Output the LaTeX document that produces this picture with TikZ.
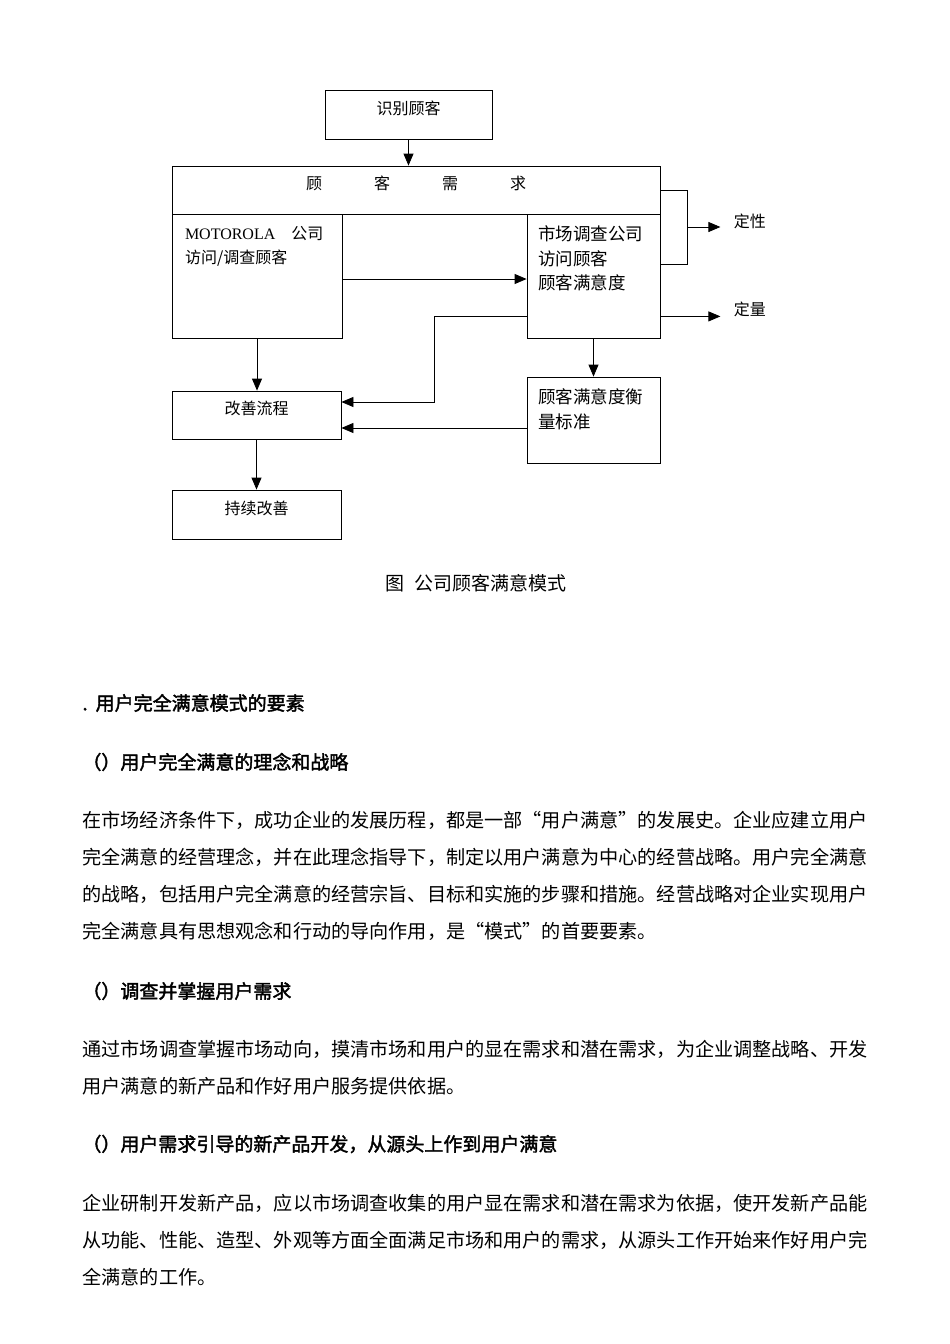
\documentclass[tikz,border=0pt]{standalone}
\usepackage{fontspec}
\setmainfont{Noto Sans CJK SC}[AutoFakeBold=2]
\newfontfamily\latinfont{Liberation Serif}
\usetikzlibrary{positioning,arrows.meta,calc}
\tikzset{
  box/.style={draw,line width=0.8pt,inner sep=0pt},
  onebox/.style={box,font=\fontsize{16}{24}\selectfont,text height=14pt,text depth=15pt},
  boxtext/.style={inner sep=0pt,align=left,font=\fontsize{16}{24.5}\selectfont},
  widetext/.style={boxtext,font=\fontsize{17.5}{24.5}\selectfont},
  para/.style={anchor=west,inner sep=0pt,font=\fontsize{19.15}{19}\selectfont},
  head/.style={para,font=\fontsize{19}{19}\selectfont\bfseries},
}
\begin{document}
\begin{tikzpicture}[x=1pt,y=-1pt,line width=0.8pt,>={Triangle[length=12pt,width=10pt]}]
      \useasboundingbox (0,0) rectangle (950,1344);
      % boxes
      \node[onebox,minimum width=167pt,minimum height=49pt] (shibie) at (408.5,114.5) {识别顾客};
      \node[onebox,minimum width=488pt,minimum height=48pt] (xuqiu) at (416,190) {顾\hspace{52pt}客\hspace{52pt}需\hspace{52pt}求};
      \node[box,minimum width=170pt,minimum height=124pt] (moto) at (257,276) {};
      \node[box,minimum width=133pt,minimum height=124pt] (shichang) at (593.5,276) {};
      \node[onebox,minimum width=169pt,minimum height=48pt] (gaishan) at (256.5,415) {改善流程};
      \node[box,minimum width=133pt,minimum height=86pt] (biaozhun) at (593.5,420) {};
      \node[onebox,minimum width=169pt,minimum height=49pt] (chixu) at (256.5,514.5) {持续改善};
      \node[boxtext,below right=12pt and 13pt of moto.north west] (mototext) {{\latinfont MOTOROLA}\hspace{16pt}公司\\访问/调查顾客};
      \node[widetext,below right=12pt and 11pt of shichang.north west] (shichangtext) {市场调查公司\\访问顾客\\顾客满意度};
      \node[widetext,below right=12pt and 11pt of biaozhun.north west] (biaozhuntext) {顾客满意度衡\\量标准};
      % arrows
      \draw[->] (shibie) -- (shibie |- xuqiu.north);
      \draw[->] ($(moto.east)+(0,3)$) -- ($(shichang.west)+(0,3)$);
      \draw (xuqiu.east) -- ++(27,0) coordinate (brk) |- ($(shichang.north east)+(0,51)$);
      \coordinate (brkmid) at ($(brk)+(0,37)$);
      \node[boxtext,anchor=west] (dingxing) at ($(brkmid)+(46,-6)$) {定性};
      \draw[->,shorten >=13pt] (brkmid) -- (brkmid -| dingxing.west);
      \coordinate (dlstart) at ($(shichang.south east)+(0,-22)$);
      \node[boxtext,anchor=west] (dingliang) at ($(dlstart)+(73,-7)$) {定量};
      \draw[->,shorten >=13pt] (dlstart) -- (dlstart -| dingliang.west);
      \draw[->] ($(shichang.south west)+(0,-22)$) -| ($(gaishan.east)+(93,-13)$) -- ($(gaishan.east)+(0,-13)$);
      \coordinate (gaishanlow) at ($(gaishan.east)+(0,13)$);
      \draw[->] (biaozhun.west |- gaishanlow) -- (gaishanlow);
      \draw[->] (shichang) -- (shichang |- biaozhun.north);
      \draw[->] (moto) -- (moto |- gaishan.north);
      \draw[->] (gaishan) -- (chixu);
      % caption and text
      \node[font=\fontsize{19}{19}\selectfont,inner sep=0pt] (caption) at (476,583) {图\hspace{10pt}公司顾客满意模式};
      \node[head] (h1) at (82,703) {.\hspace{8pt}用户完全满意模式的要素};
      \node[head] (h2) at (82,762) {（）用户完全满意的理念和战略};
      \node[para] (p1a) at (82,820) {在市场经济条件下，成功企业的发展历程，都是一部“用户满意”的发展史。企业应建立用户};
      \node[para] (p1b) at (82,857) {完全满意的经营理念，并在此理念指导下，制定以用户满意为中心的经营战略。用户完全满意};
      \node[para] (p1c) at (82,894) {的战略，包括用户完全满意的经营宗旨、目标和实施的步骤和措施。经营战略对企业实现用户};
      \node[para] (p1d) at (82,931) {完全满意具有思想观念和行动的导向作用，是“模式”的首要要素。};
      \node[head] (h3) at (82,991) {（）调查并掌握用户需求};
      \node[para] (p2a) at (82,1049) {通过市场调查掌握市场动向，摸清市场和用户的显在需求和潜在需求，为企业调整战略、开发};
      \node[para] (p2b) at (82,1086) {用户满意的新产品和作好用户服务提供依据。};
      \node[head] (h4) at (82,1144) {（）用户需求引导的新产品开发，从源头上作到用户满意};
      \node[para] (p3a) at (82,1203) {企业研制开发新产品，应以市场调查收集的用户显在需求和潜在需求为依据，使开发新产品能};
      \node[para] (p3b) at (82,1240) {从功能、性能、造型、外观等方面全面满足市场和用户的需求，从源头工作开始来作好用户完};
      \node[para] (p3c) at (82,1277) {全满意的工作。};
\end{tikzpicture}
\end{document}
